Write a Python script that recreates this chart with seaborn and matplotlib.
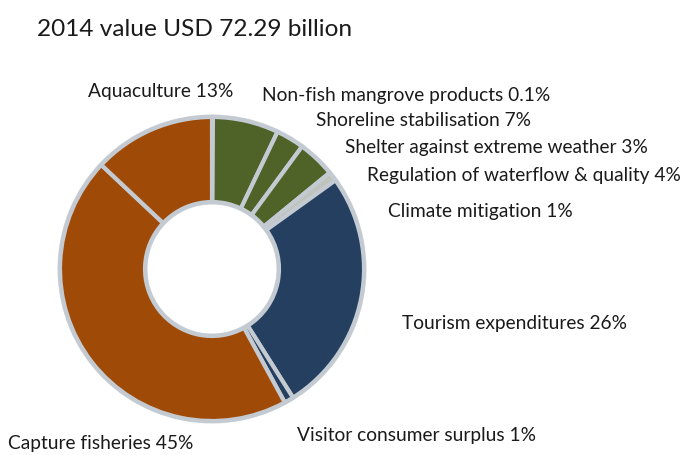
import matplotlib
matplotlib.use("Agg")
import matplotlib.pyplot as plt
import seaborn as sns

# Value shares of mangrove ecosystem services, clockwise from 12 o'clock
categories = [
    "Non-fish mangrove products",
    "Shoreline stabilisation",
    "Shelter against extreme weather",
    "Regulation of waterflow & quality",
    "Climate mitigation",
    "Tourism expenditures",
    "Visitor consumer surplus",
    "Capture fisheries",
    "Aquaculture",
]
shares = [0.1, 7, 3, 4, 1, 26, 1, 45, 13]
share_text = ["0.1%", "7%", "3%", "4%", "1%", "26%", "1%", "45%", "13%"]
title = "2014 value USD 72.29 billion"

sns.set_theme(style="white")
plt.rcParams["font.family"] = ["Lato", "DejaVu Sans"]

green = "#4f6228"
navy = "#243f60"
rust = "#a04a08"
grey = "#bfc3bb"
colors = [green, green, green, green, grey, navy, navy, rust, rust]

W, H = 686, 455
fig = plt.figure(figsize=(W / 100, H / 100), dpi=100)
ax = fig.add_axes([0, 0, 1, 1])

cx, cy, r = 212, H - 269, 152
ring = 85

# soft halo behind the ring
ax.pie([1], radius=r + 2.5, center=(cx, cy), colors=["#d3d9e0"],
       wedgeprops=dict(width=ring + 5, edgecolor="none"))

ax.pie(shares, colors=colors, startangle=90, counterclock=False,
       radius=r, center=(cx, cy),
       wedgeprops=dict(width=ring, edgecolor="#c4cad1", linewidth=3))

ax.set_xlim(0, W)
ax.set_ylim(0, H)
ax.set_aspect("equal")
ax.axis("off")

txt = dict(color="#1a1a1a", fontsize=13.8, va="center", ha="left")
lbl = {c: f"{c} {p}" for c, p in zip(categories, share_text)}
positions = {
    "Aquaculture": (88, 92),
    "Non-fish mangrove products": (262, 96),
    "Shoreline stabilisation": (316, 121),
    "Shelter against extreme weather": (345, 147),
    "Regulation of waterflow & quality": (367, 176),
    "Climate mitigation": (388, 212),
    "Tourism expenditures": (402, 323),
    "Visitor consumer surplus": (297, 436),
    "Capture fisheries": (8, 444),
}
for c, (x, y) in positions.items():
    ax.text(x, H - y, lbl[c], **txt)

ax.text(37, H - 30, title, color="#1a1a1a", fontsize=17.6, va="center", ha="left")

fig.savefig("out.png", dpi=100, facecolor="white")
